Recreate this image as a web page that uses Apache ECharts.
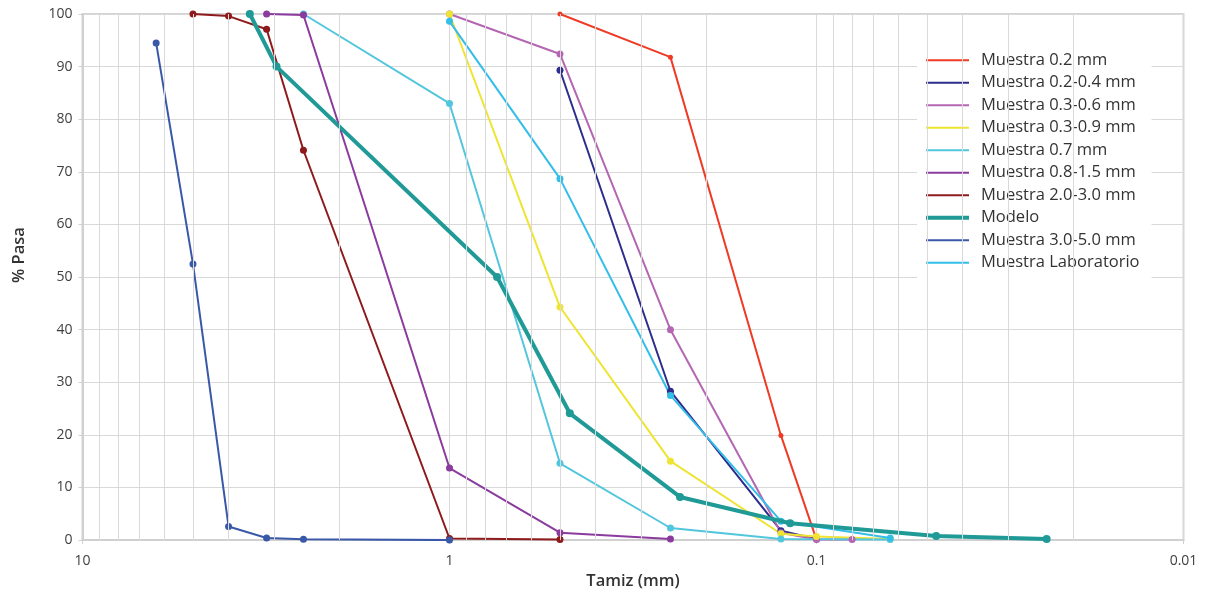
<!DOCTYPE html>
<html>
<head>
<meta charset="utf-8">
<script src="https://cdn.jsdelivr.net/npm/echarts@6/dist/echarts.min.js"></script>
<style>
html,body{margin:0;padding:0;background:#fff;}
#chart{width:1216px;height:595px;}
</style>
</head>
<body>
<div id="chart"></div>
<script>
// ---- data (x = sieve size in mm, y = % passing) ----
const seriesNames = [
  'Muestra 0.2 mm', 'Muestra 0.2-0.4 mm', 'Muestra 0.3-0.6 mm', 'Muestra 0.3-0.9 mm',
  'Muestra 0.7 mm', 'Muestra 0.8-1.5 mm', 'Muestra 2.0-3.0 mm', 'Modelo',
  'Muestra 3.0-5.0 mm', 'Muestra Laboratorio'
];
const m02 = [[0.5, 100], [0.25, 91.8], [0.125, 19.9], [0.1, 0.1]];
const m0204 = [[0.5, 89.3], [0.25, 28.3], [0.125, 1.8], [0.1, 0.2]];
const m0306 = [[1, 100], [0.5, 92.4], [0.25, 40], [0.125, 1.4], [0.1, 0.1], [0.08, 0.1]];
const m0309 = [[1, 100], [0.5, 44.3], [0.25, 15], [0.125, 1.2], [0.1, 0.7], [0.063, 0.2]];
const m07 = [[2.5, 100], [1, 83], [0.5, 14.6], [0.25, 2.3], [0.125, 0.2], [0.063, 0.1]];
const m0815 = [[3.15, 100], [2.5, 99.8], [1, 13.7], [0.5, 1.4], [0.25, 0.2]];
const m2030 = [[5, 100], [4, 99.6], [3.15, 97.1], [2.5, 74.1], [1, 0.3], [0.5, 0.1]];
const modelo = [[3.5, 100], [2.96, 90], [0.742, 50], [0.47, 24.1], [0.2355, 8.2], [0.118, 3.2], [0.0472, 0.8], [0.0236, 0.2]];
const m3050 = [[6.3, 94.5], [5, 52.5], [4, 2.6], [3.15, 0.4], [2.5, 0.15], [1, 0]];
const lab = [[1, 98.6], [0.5, 68.7], [0.25, 27.5], [0.125, 3.6], [0.063, 0.4]];
const minorGrid = [9, 8, 7, 6, 5, 4, 3, 2, 0.9, 0.8, 0.7, 0.6, 0.5, 0.4, 0.3, 0.2,
  0.09, 0.08, 0.07, 0.06, 0.05, 0.04, 0.03, 0.02];

const allData = [m02, m0204, m0306, m0309, m07, m0815, m2030, modelo, m3050, lab];
const colors = ['#EF3B26', '#2C2D8C', '#B466B2', '#EEE431', '#52C6DD', '#8B3A9D',
  '#8E1A1C', '#1F9A97', '#3A58A8', '#33BEE9'];

const FONT = '"Open Sans"';
const series = [{
  name: '_grid', type: 'line', data: [], z: 0, silent: true,
  markLine: {
    silent: true, symbol: ['none', 'none'], label: {show: false},
    lineStyle: {color: '#d9d9d9', width: 1, type: 'solid'},
    emphasis: {disabled: true},
    animation: false,
    data: minorGrid.map(v => ({xAxis: v}))
  }
}];
seriesNames.forEach((n, i) => {
  const isModel = n === 'Modelo';
  series.push({
    name: n, type: 'line', data: allData[i],
    color: colors[i],
    symbol: 'circle',
    symbolSize: isModel ? 8 : (i === 0 ? 5 : 7),
    lineStyle: {width: isModel ? 4 : 2},
    z: isModel ? 4 : 3,
    animation: false
  });
});

const chart = echarts.init(document.getElementById('chart'), null, {renderer: 'canvas'});
chart.setOption({
  backgroundColor: '#fff',
  animation: false,
  grid: {left: 82.5, right: 32.5, top: 14, bottom: 52.7, show: true, borderColor: '#d4d4d4', borderWidth: 2, backgroundColor: 'transparent'},
  legend: {
    orient: 'vertical', left: 917, top: 43,
    backgroundColor: '#fff',
    padding: [6, 12, 16, 9],
    itemWidth: 43, itemHeight: 4, itemGap: 0,
    symbolKeepAspect: true,
    textStyle: {fontFamily: FONT, fontSize: 16.5, color: '#333', lineHeight: 22.5, padding: [0, 0, 0, 7]},
    data: seriesNames.map(n => ({
      name: n,
      icon: n === 'Modelo' ? 'path://M0,0L43,0L43,4L0,4Z' : 'path://M0,0L43,0L43,2L0,2Z'
    }))
  },
  xAxis: {
    type: 'log', logBase: 10, min: 0.01, max: 10, inverse: true,
    name: 'Tamiz (mm)', nameLocation: 'middle', nameGap: 29,
    nameTextStyle: {fontFamily: FONT, fontSize: 16.5, color: '#333', fontWeight: 600},
    axisLine: {show: true, lineStyle: {color: '#d0d0d0', width: 2}},
    axisTick: {show: true, length: 4, lineStyle: {color: '#d0d0d0'}},
    axisLabel: {fontFamily: FONT, fontSize: 14, color: '#404040', margin: 14,
      formatter: v => String(+v.toPrecision(3))},
    splitLine: {show: true, lineStyle: {color: '#d9d9d9', width: 1}}
  },
  yAxis: {
    type: 'value', min: 0, max: 100, interval: 10,
    name: '% Pasa', nameLocation: 'middle', nameGap: 55, nameRotate: 90,
    nameTextStyle: {fontFamily: FONT, fontSize: 16.5, color: '#333', fontWeight: 600, padding: [0, 0, 0, 44]},
    axisLine: {show: true, lineStyle: {color: '#d0d0d0', width: 2}},
    axisTick: {show: true, length: 4, lineStyle: {color: '#d0d0d0'}},
    axisLabel: {fontFamily: FONT, fontSize: 14, color: '#404040', margin: 10},
    splitLine: {show: true, lineStyle: {color: '#d9d9d9', width: 1}}
  },
  series: series
});
</script>
</body>
</html>
